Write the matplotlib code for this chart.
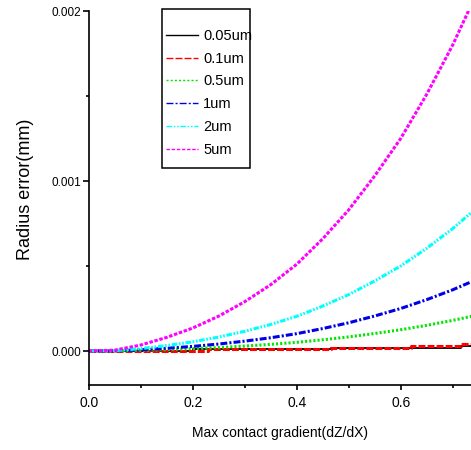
import numpy as np
import matplotlib
matplotlib.use("Agg")
import matplotlib.pyplot as plt
from matplotlib.lines import Line2D
from matplotlib.patches import Rectangle
from matplotlib.ticker import MultipleLocator, FixedLocator, FormatStrFormatter

# curve values (Radius error in mm)
x = [0.0, 0.05, 0.1, 0.15, 0.2, 0.25, 0.3, 0.35, 0.4, 0.45, 0.5, 0.55, 0.6, 0.65, 0.7, 0.75]
err_5um = [0, 0.000005, 0.000035, 0.00008, 0.000135, 0.000205, 0.00029, 0.00039, 0.00051,
           0.00066, 0.00083, 0.00103, 0.00125, 0.00151, 0.0018, 0.00213]
err_2um = [0, 0.000002, 0.000014, 0.000032, 0.000054, 0.000082, 0.000116, 0.000156, 0.000204,
           0.000264, 0.000332, 0.000412, 0.0005, 0.000604, 0.00072, 0.000852]
err_1um = [0, 0.000001, 0.000007, 0.000016, 0.000027, 0.000041, 0.000058, 0.000078, 0.000102,
           0.000132, 0.000166, 0.000206, 0.00025, 0.000302, 0.00036, 0.000426]
err_05um = [0, 0, 0.000004, 0.000008, 0.000014, 0.00002, 0.000029, 0.000039, 0.000051,
            0.000066, 0.000083, 0.000103, 0.000125, 0.000151, 0.00018, 0.000213]

# the two smallest ones only move in 1e-5 steps
x_01um = [0.0, 0.23, 0.465, 0.62, 0.715, 0.75]
err_01um = [0, 0.00001, 0.00002, 0.00003, 0.00004, 0.00004]
x_005um = [0.0, 0.2, 0.465, 0.715, 0.75]
err_005um = [0, 0.00001, 0.00002, 0.00003, 0.00003]

labels = ["0.05um", "0.1um", "0.5um", "1um", "2um", "5um"]
colours = ["black", "red", "#00e600", "#0000e6", "cyan", "magenta"]
dashes = [None, (5, 1.5), (1.5, 1.5), (5, 1.5, 1.5, 1.5), (4, 1.2, 1.2, 1.2, 1.2, 1.2), (2.5, 1.2)]

plt.rcParams["font.family"] = "Liberation Sans"
plt.rcParams["lines.scale_dashes"] = False

fig = plt.figure(figsize=(4.71, 4.5), dpi=100)
# axes run past the right edge of the picture, like the reference crop
ax = fig.add_axes([88.7 / 471, 65 / 450, 416 / 471, 374 / 450])

ax.plot(x_005um, err_005um, drawstyle="steps-post", color=colours[0], lw=1.3)
ax.plot(x_01um, err_01um, drawstyle="steps-post", color=colours[1], lw=2.2, dashes=dashes[1])
series = [err_05um, err_1um, err_2um, err_5um]
for i, ys in enumerate(series):
    ax.plot(x, ys, color=colours[i + 2], lw=2.2, dashes=dashes[i + 2])

ax.set_xlim(0, 0.8)
ax.set_ylim(-0.0002, 0.002)
ax.spines["top"].set_visible(False)
ax.spines["right"].set_visible(False)
for s in ["left", "bottom"]:
    ax.spines[s].set_linewidth(1.2)

ax.xaxis.set_major_locator(FixedLocator([0.0, 0.2, 0.4, 0.6]))
ax.xaxis.set_minor_locator(MultipleLocator(0.1))
ax.yaxis.set_major_locator(MultipleLocator(0.001))
ax.yaxis.set_minor_locator(MultipleLocator(0.0005))
ax.xaxis.set_major_formatter(FormatStrFormatter("%.1f"))
ax.yaxis.set_major_formatter(FormatStrFormatter("%.3f"))
ax.tick_params(axis="x", which="major", length=3.6, width=1.2, pad=4, labelsize=10)
ax.tick_params(axis="x", which="minor", length=2.5, width=1.2)
ax.tick_params(axis="y", which="major", length=4.5, width=1.2, pad=1, labelsize=8.5)
ax.tick_params(axis="y", which="minor", length=2, width=1.2)

ax.set_xlabel("Max contact gradient(dZ/dX)", fontsize=10, va="center")
ax.xaxis.set_label_coords(0.459, -0.128)
ax.set_ylabel("Radius error(mm)", fontsize=13, va="center")
ax.yaxis.set_label_coords(-0.153, 0.524)

handles = [Line2D([], [], color="black", lw=1)]
handles += [Line2D([], [], color=c, lw=1, dashes=d) for c, d in zip(colours[1:], dashes[1:])]
leg = ax.legend(handles, labels, loc="upper left", bbox_to_anchor=(0.186, 0.952),
                frameon=False, borderpad=0, borderaxespad=0, handlelength=2.2,
                handletextpad=0.34, labelspacing=0.6, prop={"size": 10.5})
ax.add_patch(Rectangle((0.1762, 0.5802), 0.212, 0.4251, transform=ax.transAxes,
                       fill=False, lw=1.1, ec="black", clip_on=False, zorder=5))

fig.savefig("out.png", dpi=100)
